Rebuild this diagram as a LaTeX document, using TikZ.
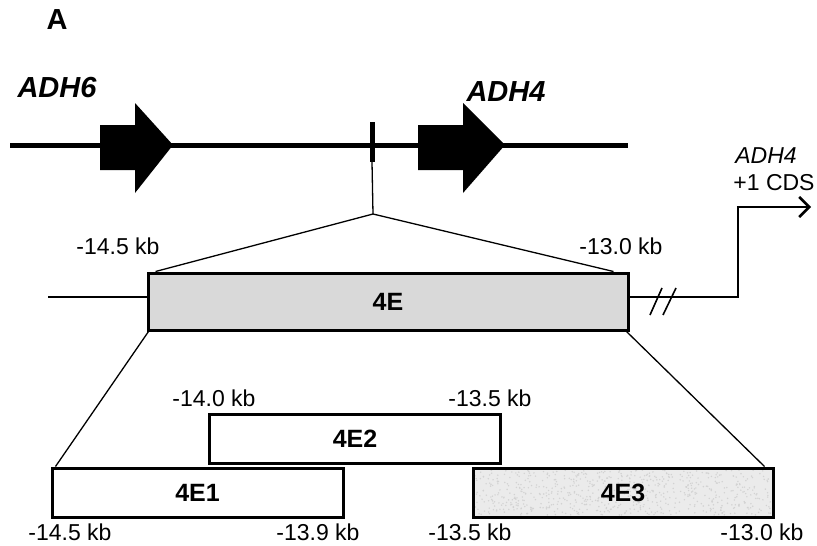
\documentclass[tikz,border=0pt]{standalone}
\usepackage{fontspec}
\setmainfont{Liberation Sans}
\usetikzlibrary{arrows.meta}
\definecolor{boxgray}{HTML}{D9D9D9}
\definecolor{noisegray}{HTML}{EBEBEB}
\definecolor{speck}{HTML}{D2D2D2}
\tikzset{
  lbl/.style={inner sep=0pt, font=\fontsize{23}{26}\selectfont},
  genelbl/.style={inner sep=0pt, font=\fontsize{29}{32}\selectfont\bfseries\itshape},
  region/.style={draw=black, line width=3pt, inner sep=0pt, font=\fontsize{25}{28}\selectfont\bfseries},
  thin/.style={line width=1.3pt},
  chrom/.style={line width=5pt},
  gene/.style={fill=black, draw=none},
}
\begin{document}
\begin{tikzpicture}[x=1pt,y=-1pt]
\useasboundingbox (0,0) rectangle (817,546);
% panel letter
\node[inner sep=0pt, font=\fontsize{29}{32}\selectfont\bfseries] (panel) at (57,20) {A};
% chromosome line
\coordinate (cl) at (10,145);
\coordinate (cr) at (628,145);
\draw[chrom] (cl) -- (cr);
% genes
\fill[gene] (100,125) -- (135,125) -- (135,103) -- (173,145) -- (135,193) -- (135,170) -- (100,170) -- cycle;
\fill[gene] (418,125) -- (463,125) -- (463,103) -- (505,145) -- (463,193) -- (463,170) -- (418,170) -- cycle;
\node[genelbl] (adh6) at (57,88) {ADH6};
\node[genelbl] (adh4) at (506,92) {ADH4};
% tick
\coordinate (ticktop) at (372,122);
\coordinate (tickbot) at (372,162);
\draw[line width=5pt] (ticktop) -- (tickbot);
\coordinate (apex) at (373,214);
\draw[thin] (tickbot) -- (apex);
% 4E box
\node[region, fill=boxgray, minimum width=480pt, minimum height=57pt] (e4) at (388,301.5) {4E};
\draw[thin] (apex) -- ([xshift=9pt]e4.north west);
\draw[thin] (apex) -- ([xshift=-16pt]e4.north east);
\node[lbl] (l145a) at (118,246) {-14.5 kb};
\node[lbl] (l130a) at (621,246) {-13.0 kb};
% side lines
\coordinate (leftend) at (48,297);
\draw[thin] (leftend) -- (leftend -| e4.west);
\coordinate (bend) at (738,297);
\coordinate (bendtop) at (738,207);
\coordinate (tip) at (811,207);
\draw[line width=2.5pt] (bend -| e4.east) -- (bend) -- (bendtop);
\draw[line width=2.5pt, -{Straight Barb[length=10pt,width=20pt,line width=2.5pt]}] ([xshift=-1.25pt]bendtop) -- (tip);
\coordinate (s1a) at (650,315); \coordinate (s1b) at (662,288);
\coordinate (s2a) at (663,315); \coordinate (s2b) at (676,288);
\draw[line width=1.6pt] (s1a) -- (s1b);
\draw[line width=1.6pt] (s2a) -- (s2b);
\node[lbl, font=\fontsize{23}{26}\selectfont\itshape] (adh4cds) at (766,156) {ADH4};
\node[lbl] (cds) at (774,183) {+1 CDS};
% sub-regions
\node[region, fill=white, minimum width=291pt, minimum height=49pt] (e42) at (355,438.5) {4E2};
\node[region, fill=white, minimum width=291pt, minimum height=49pt] (e41) at (197.5,492.5) {4E1};
\node[region, fill=noisegray, minimum width=300pt, minimum height=49pt] (e43) at (623,492.5) {};
% speckle texture inside 4E3
\pgfmathsetseed{7}
\begin{scope}
\clip (475,470) rectangle (771,515);
\foreach \i in {1,...,700} {
  \pgfmathsetmacro{\px}{475+296*rnd}
  \pgfmathsetmacro{\py}{470+45*rnd}
  \fill[speck] (\px,\py) circle (0.8pt);
}
\end{scope}
\node[inner sep=0pt, font=\fontsize{25}{28}\selectfont\bfseries] (e43lbl) at (e43.center) {4E3};
\draw[thin] ([xshift=2pt]e4.south west) -- ([xshift=5pt]e41.north west);
\draw[thin] ([xshift=-3pt]e4.south east) -- ([xshift=-10pt]e43.north east);
\node[lbl] (l140) at (214,398) {-14.0 kb};
\node[lbl] (l135a) at (490,398) {-13.5 kb};
\node[lbl] (l145b) at (70,532) {-14.5 kb};
\node[lbl] (l139) at (318,532) {-13.9 kb};
\node[lbl] (l135b) at (470,532) {-13.5 kb};
\node[lbl] (l130b) at (762,532) {-13.0 kb};
\end{tikzpicture}
\end{document}
